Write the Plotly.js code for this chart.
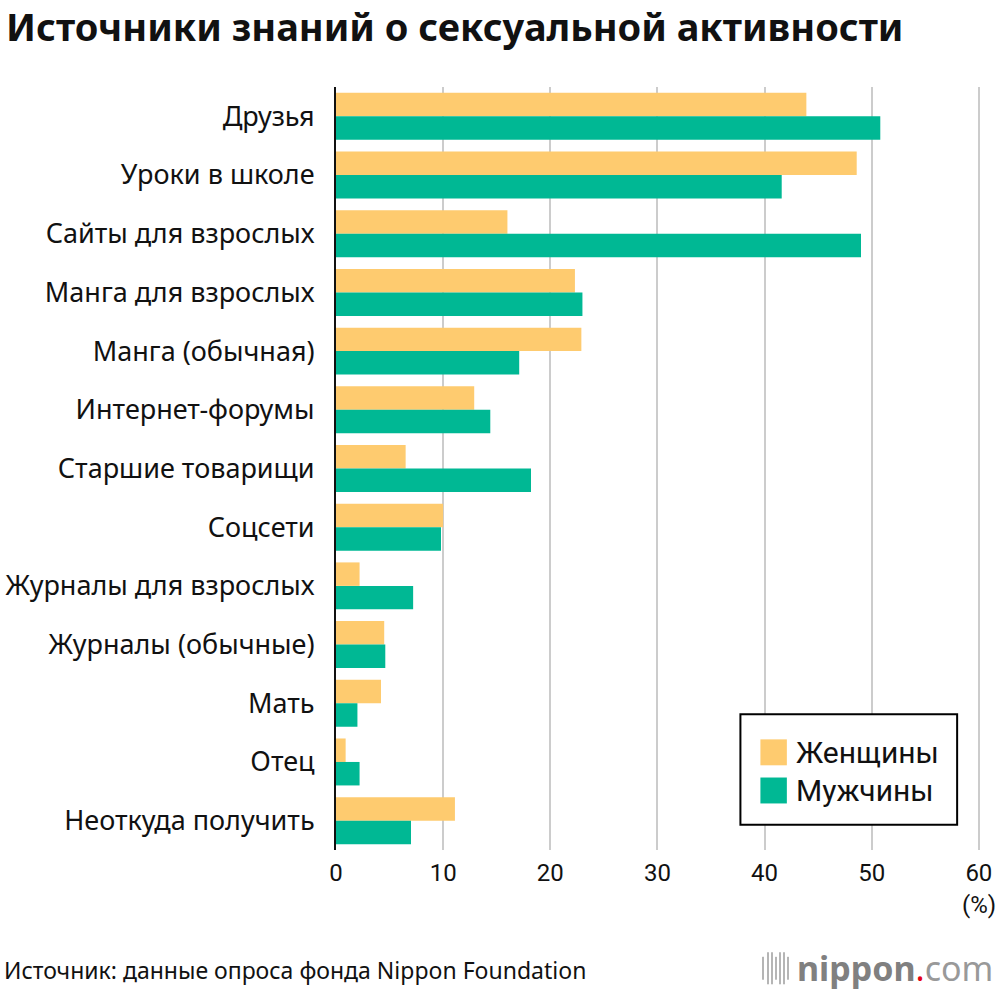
<!DOCTYPE html>
<html>
<head>
<meta charset="utf-8">
<script src="https://cdn.plot.ly/plotly-3.0.1.min.js"></script>
<style>
  html, body { margin: 0; padding: 0; background: #fff; }
  #chart { width: 1000px; height: 990px; }
</style>
</head>
<body>
<div id="chart"></div>
<script>
const categories = [
  'Друзья', 'Уроки в школе', 'Сайты для взрослых', 'Манга для взрослых',
  'Манга (обычная)', 'Интернет-форумы', 'Старшие товарищи', 'Соцсети',
  'Журналы для взрослых', 'Журналы (обычные)', 'Мать', 'Отец', 'Неоткуда получить'
];
const women = [43.9, 48.6, 16.0, 22.3, 22.9, 12.9, 6.5, 10.0, 2.2, 4.5, 4.2, 0.9, 11.1];
const men   = [50.8, 41.6, 49.0, 23.0, 17.1, 14.4, 18.2, 9.8, 7.2, 4.6, 2.0, 2.2, 7.0];
const xTicks = [0, 10, 20, 30, 40, 50, 60];

const colWomen = '#FECB6F';
const colMen = '#00B894';

const data = [
  {
    type: 'bar', orientation: 'h', name: 'Женщины',
    y: categories, x: women,
    marker: { color: colWomen },
    hoverinfo: 'x+y'
  },
  {
    type: 'bar', orientation: 'h', name: 'Мужчины',
    y: categories, x: men,
    marker: { color: colMen },
    hoverinfo: 'x+y'
  }
];

// legend drawn as box + swatches + labels
const legendShapes = [
  { type: 'rect', xref: 'paper', yref: 'paper', x0: 0.627, x1: 0.963, y0: 0.033, y1: 0.178,
    line: { color: '#000', width: 2 }, fillcolor: '#fff', layer: 'above' },
  { type: 'rect', xref: 'paper', yref: 'paper', x0: 0.658, x1: 0.699, y0: 0.111, y1: 0.145,
    line: { width: 0 }, fillcolor: colWomen, layer: 'above' },
  { type: 'rect', xref: 'paper', yref: 'paper', x0: 0.658, x1: 0.699, y0: 0.061, y1: 0.095,
    line: { width: 0 }, fillcolor: colMen, layer: 'above' }
];

// small logo bars for nippon.com
const logoBars = [0, 5, 9, 13, 17, 21, 25].map((dx, i) => ({
  type: 'line', xref: 'paper', yref: 'paper',
  x0: 0.662 + dx / 645, x1: 0.662 + dx / 645,
  y0: -0.168 - (i % 3 === 0 ? 0.002 : 0.008), y1: -0.140 + (i % 3 === 0 ? 0 : 0.006),
  line: { color: '#b5b5b5', width: 2 }
}));

const layout = {
  width: 1000, height: 990,
  margin: { l: 336, r: 19, t: 87, b: 140 },
  paper_bgcolor: '#fff', plot_bgcolor: '#fff',
  font: { family: '"Noto Sans", sans-serif', color: '#111' },
  title: {
    text: '<b>Источники знаний о сексуальной активности</b>',
    x: 0.006, xanchor: 'left', y: 0.972, yanchor: 'middle',
    font: { size: 38, color: '#111', family: '"Noto Sans", sans-serif' }
  },
  barmode: 'group', bargap: 0.2, bargroupgap: 0,
  showlegend: false,
  xaxis: {
    range: [0, 60.2], tickvals: xTicks, ticks: '', showline: false, ticklabelstandoff: 6,
    showgrid: true, gridcolor: '#cccccc', gridwidth: 2, zeroline: false,
    tickfont: { size: 24, family: 'Roboto, sans-serif', color: '#111' },
    fixedrange: true
  },
  yaxis: {
    autorange: 'reversed', ticks: '', ticklabelstandoff: 14,
    showline: true, linecolor: '#111', linewidth: 2, showgrid: false,
    tickfont: { size: 27, color: '#111' },
    fixedrange: true
  },
  shapes: legendShapes.concat(logoBars),
  annotations: [
    { text: 'Женщины', xref: 'paper', yref: 'paper', x: 0.71, y: 0.128,
      xanchor: 'left', yanchor: 'middle', showarrow: false,
      font: { size: 30, family: 'Roboto, sans-serif', color: '#111' } },
    { text: 'Мужчины', xref: 'paper', yref: 'paper', x: 0.71, y: 0.078,
      xanchor: 'left', yanchor: 'middle', showarrow: false,
      font: { size: 30, family: 'Roboto, sans-serif', color: '#111' } },
    { text: '(%)', xref: 'x', yref: 'paper', x: 60, y: -0.072,
      xanchor: 'center', yanchor: 'middle', showarrow: false,
      font: { size: 24, family: 'Roboto, sans-serif', color: '#111' } },
    { text: 'Источник: данные опроса фонда Nippon Foundation', xref: 'paper', yref: 'paper',
      x: -0.518, y: -0.157, xanchor: 'left', yanchor: 'middle', showarrow: false,
      font: { size: 23, color: '#111' } },
    { text: '<b>nippon</b><span style="color:#e60012">.</span><span style="color:#999">com</span>',
      xref: 'paper', yref: 'paper', x: 1.022, y: -0.155, xanchor: 'right', yanchor: 'middle',
      showarrow: false, font: { size: 34, color: '#808080', family: '"Noto Sans", sans-serif' } }
  ]
};

Plotly.newPlot('chart', data, layout, { displayModeBar: false, staticPlot: true });
</script>
</body>
</html>
